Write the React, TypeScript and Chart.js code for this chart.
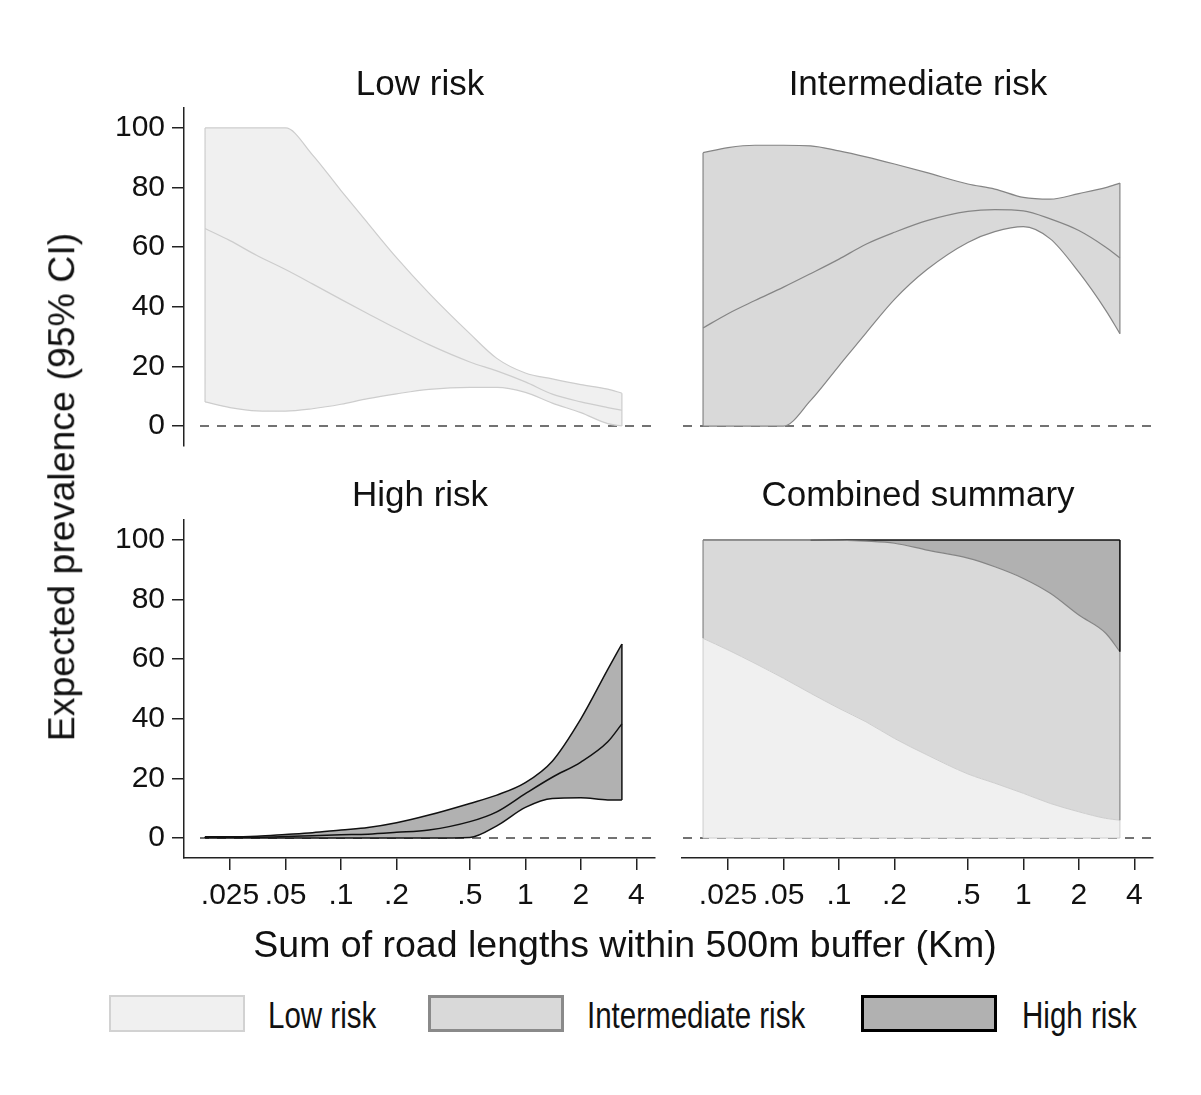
import React, { useEffect, useRef } from "react";
import { Chart, registerables } from "chart.js";

Chart.register(...registerables);

const FONT = '"Liberation Sans", Arial, Helvetica, sans-serif';

// ---------- data ----------
const xValues = [0.0183, 0.025, 0.035, 0.05, 0.07, 0.1, 0.14, 0.2, 0.3, 0.5, 0.7, 1, 1.4, 2, 2.8, 3.34];
const xTickValues = [0.025, 0.05, 0.1, 0.2, 0.5, 1, 2, 4];
const xTickLabels = [".025", ".05", ".1", ".2", ".5", "1", "2", "4"];
const yTickValues = [0, 20, 40, 60, 80, 100];
const yTickLabels = ["0", "20", "40", "60", "80", "100"];

const lowUpper = [100, 100, 100, 100, 91, 79, 68, 56.5, 44.6, 31, 22.7, 17.8, 15.8, 13.9, 12.4, 11];
const lowMid = [66.3, 62.2, 57.2, 52.5, 47.7, 42.5, 37.7, 32.7, 27.3, 21.5, 18.5, 14.8, 10.7, 8.1, 6.2, 5.3];
const lowLower = [8.1, 6.2, 5.1, 5.0, 5.8, 7.3, 9.2, 10.8, 12.3, 13.0, 13.0, 11.3, 7.7, 4.5, 0.8, 0];

const interUpper = [91.7, 93.4, 94.2, 94.2, 94, 92.3, 90.3, 87.9, 85, 81.2, 79.5, 76.7, 76.1, 78, 80, 81.5];
const interMid = [32.9, 37.7, 42.1, 46.6, 51.1, 56, 61, 65, 68.9, 72, 72.6, 72.2, 69.5, 65.6, 60, 56.4];
const interLower = [0, 0, 0, 0, 8.5, 20.2, 31.2, 42.5, 52.5, 61.6, 65.2, 66.9, 62.8, 51.6, 38.8, 31];

const highUpper = [0.4, 0.4, 0.6, 1.2, 1.8, 2.7, 3.5, 5.1, 7.7, 11.6, 14.4, 18.6, 25.8, 40, 56.6, 65.1];
const highMid = [0.3, 0.3, 0.3, 0.5, 0.8, 1.1, 1.3, 1.9, 2.7, 5.5, 8.8, 14.9, 20.4, 25.5, 32.3, 38.3];
const highLower = [0, 0, 0, 0, 0, 0, 0, 0, 0, 0.2, 4.1, 10.3, 13.3, 13.5, 12.8, 12.8];

const combinedLow = [67.0, 63.1, 58.6, 53.6, 48.6, 43.5, 39.0, 33.4, 27.9, 21.5, 18.4, 15.0, 11.6, 8.8, 6.6, 6.0];
const combinedIntermediate = [33.0, 36.9, 41.4, 46.4, 51.4, 56.4, 60.6, 65.5, 68.7, 72.4, 72.6, 72.1, 70.5, 66.0, 62.1, 56.5];
const combinedHigh = [0, 0, 0, 0, 0, 0.1, 0.4, 1.1, 3.4, 6.1, 9.0, 12.9, 17.9, 25.2, 31.3, 37.5];

const panelTitles = ["Low risk", "Intermediate risk", "High risk", "Combined summary"];
const legendLabels = ["Low risk", "Intermediate risk", "High risk"];
const yTitle = "Expected prevalence (95% CI)";
const xTitle = "Sum of road lengths within 500m buffer (Km)";

// ---------- styles ----------
const X_MIN = 0.01407;
const X_MAX = 5.05;
const Y_MIN = -6.7;
const Y_MAX = 106.7;

const STYLE = {
  low: { fill: "#f0f0f0", line: "#cdcdcd", width: 1.2, legendBorder: "#d2d2d2", legendWidth: 2 },
  inter: { fill: "#d9d9d9", line: "#858585", width: 1.2, legendBorder: "#8a8a8a", legendWidth: 3 },
  high: { fill: "#b1b1b1", line: "#111111", width: 1.5, legendBorder: "#000000", legendWidth: 3 },
};

const pts = (ys: number[]) => xValues.map((x, i) => ({ x, y: ys[i] }));

function bandDatasets(upper: number[], mid: number[], lower: number[], st: any) {
  const common = {
    pointRadius: 0,
    borderColor: st.line,
    borderWidth: st.width,
    cubicInterpolationMode: "monotone",
  };
  return [
    { ...common, label: "mid", data: pts(mid), fill: false },
    { ...common, label: "upper", data: pts(upper), fill: 2, backgroundColor: st.fill, edgeTo: 2, edgeColor: st.line },
    { ...common, label: "lower", data: pts(lower), fill: false },
  ];
}

function combinedDatasets() {
  const common = { pointRadius: 0, cubicInterpolationMode: "monotone" };
  return [
    {
      ...common,
      label: "low",
      data: pts(combinedLow),
      fill: "origin",
      backgroundColor: STYLE.low.fill,
      borderColor: STYLE.low.line,
      borderWidth: 1,
      edgeTo: "zero",
      edgeColor: STYLE.low.line,
      edgeBottom: true,
    },
    {
      ...common,
      label: "inter",
      data: pts(combinedIntermediate),
      fill: "-1",
      backgroundColor: STYLE.inter.fill,
      borderColor: STYLE.inter.line,
      borderWidth: 1.2,
      edgeTo: 0,
      edgeColor: STYLE.inter.line,
    },
    {
      ...common,
      label: "high",
      data: pts(combinedHigh),
      fill: "-1",
      backgroundColor: STYLE.high.fill,
      borderColor: STYLE.high.line,
      borderWidth: 1.6,
      segment: {
        borderColor: (c: any) => (combinedHigh[c.p1DataIndex] > 0 ? STYLE.high.line : STYLE.inter.line),
      },
      edgeTo: 1,
      edgeColor: STYLE.high.line,
      edgeWidth: 1.6,
    },
  ];
}

// ---------- plugins ----------
const zeroLinePlugin = {
  id: "zeroLine",
  beforeDraw(chart: any, _args: any, opts: any) {
    const { ctx, chartArea } = chart;
    const y = chart.scales.y.getPixelForValue(0);
    ctx.save();
    ctx.strokeStyle = "#444";
    ctx.lineWidth = 1.5;
    ctx.setLineDash([9, 8]);
    ctx.beginPath();
    ctx.moveTo(chartArea.left + (opts.offset || 0), y);
    ctx.lineTo(chartArea.right, y);
    ctx.stroke();
    ctx.restore();
  },
};

const edgePlugin = {
  id: "edges",
  afterDatasetsDraw(chart: any) {
    const ctx = chart.ctx;
    const yScale = chart.scales.y;
    const zeroPx = yScale.getPixelForValue(0);
    chart.data.datasets.forEach((ds: any, i: number) => {
      if (ds.edgeTo === undefined) return;
      const p = chart.getDatasetMeta(i).data;
      const n = p.length;
      if (!n) return;
      const base = (k: number) => (ds.edgeTo === "zero" ? zeroPx : chart.getDatasetMeta(ds.edgeTo).data[k].y);
      ctx.save();
      ctx.strokeStyle = ds.edgeColor;
      ctx.lineWidth = ds.edgeWidth || ds.borderWidth || 1;
      [0, n - 1].forEach((k) => {
        ctx.beginPath();
        ctx.moveTo(p[k].x, p[k].y);
        ctx.lineTo(p[k].x, base(k));
        ctx.stroke();
      });
      if (ds.edgeBottom) {
        ctx.beginPath();
        ctx.moveTo(p[0].x, zeroPx);
        ctx.lineTo(p[n - 1].x, zeroPx);
        ctx.stroke();
      }
      ctx.restore();
    });
  },
};

// ---------- panel ----------
type PanelProps = {
  left: number;
  top: number;
  width: number;
  height: number;
  padding: any;
  showX: boolean;
  showY: boolean;
  stacked?: boolean;
  zeroOffset: number;
  makeDatasets: () => any[];
};

function Panel(props: PanelProps) {
  const ref = useRef<HTMLCanvasElement | null>(null);
  useEffect(() => {
    const axisColor = "#222";
    const chart = new Chart(ref.current as HTMLCanvasElement, {
      type: "line",
      data: { datasets: props.makeDatasets() as any },
      options: {
        animation: false,
        responsive: false,
        devicePixelRatio: 1,
        layout: { padding: props.padding },
        events: [],
        plugins: {
          legend: { display: false },
          tooltip: { enabled: false },
          filler: { drawTime: "beforeDatasetsDraw" },
          zeroLine: { offset: props.zeroOffset },
        } as any,
        scales: {
          x: {
            type: "logarithmic",
            min: X_MIN,
            max: X_MAX,
            display: props.showX,
            afterBuildTicks: (s: any) => {
              s.ticks = xTickValues.map((v) => ({ value: v }));
            },
            afterFit: (s: any) => {
              if (props.showX) s.height = 72;
              else s.height = 0;
              s.paddingLeft = 0;
              s.paddingRight = 0;
            },
            ticks: {
              autoSkip: false,
              maxRotation: 0,
              minRotation: 0,
              padding: 8,
              color: "#111",
              font: { size: 30, family: FONT },
              callback: (v: any) => xTickLabels[xTickValues.indexOf(Number(v))],
            },
            grid: {
              display: true,
              drawOnChartArea: false,
              drawTicks: true,
              tickLength: 12,
              color: axisColor,
              lineWidth: 1.5,
            },
            border: { display: true, color: axisColor, width: 1.5 },
          } as any,
          y: {
            type: "linear",
            min: Y_MIN,
            max: Y_MAX,
            stacked: !!props.stacked,
            display: props.showY,
            afterBuildTicks: (s: any) => {
              s.ticks = yTickValues.map((v) => ({ value: v }));
            },
            afterFit: (s: any) => {
              if (props.showY) s.width = 184;
              else s.width = 0;
              s.paddingTop = 0;
              s.paddingBottom = 0;
            },
            ticks: {
              padding: 7,
              color: "#111",
              font: { size: 30, family: FONT },
              callback: (v: any) => yTickLabels[yTickValues.indexOf(Number(v))],
            },
            grid: {
              display: true,
              drawOnChartArea: false,
              drawTicks: true,
              tickLength: 12,
              color: axisColor,
              lineWidth: 1.5,
            },
            border: { display: true, color: axisColor, width: 1.5 },
          } as any,
        },
      },
      plugins: [zeroLinePlugin, edgePlugin],
    });
    return () => chart.destroy();
  }, []);
  return (
    <canvas
      ref={ref}
      width={props.width}
      height={props.height}
      style={{ position: "absolute", left: props.left, top: props.top, width: props.width, height: props.height }}
    />
  );
}

function CenterText({ x, y, size, text, rotate }: { x: number; y: number; size: number; text: string; rotate?: boolean }) {
  return (
    <div
      style={{
        position: "absolute",
        left: x,
        top: y,
        transform: `translate(-50%, -50%)${rotate ? " rotate(-90deg)" : ""}`,
        fontSize: size,
        lineHeight: 1,
        whiteSpace: "nowrap",
        color: "#111",
      }}
    >
      {text}
    </div>
  );
}

export default function App() {
  const legendStyles = [STYLE.low, STYLE.inter, STYLE.high];
  const legendBoxX = [109, 428, 861];
  const legendTextX = [268, 587, 1022];
  return (
    <div
      style={{
        position: "absolute",
        left: 0,
        top: 0,
        width: 1201,
        height: 1095,
        background: "#fff",
        fontFamily: FONT,
        overflow: "hidden",
      }}
    >
      <Panel
        left={0}
        top={100}
        width={670}
        height={360}
        padding={{ top: 8, right: 15, bottom: 14, left: 0 }}
        showX={false}
        showY={true}
        zeroOffset={16}
        makeDatasets={() => bandDatasets(lowUpper, lowMid, lowLower, STYLE.low)}
      />
      <Panel
        left={670}
        top={100}
        width={520}
        height={360}
        padding={{ top: 8, right: 37, bottom: 14, left: 12 }}
        showX={false}
        showY={false}
        zeroOffset={1}
        makeDatasets={() => bandDatasets(interUpper, interMid, interLower, STYLE.inter)}
      />
      <Panel
        left={0}
        top={510}
        width={670}
        height={420}
        padding={{ top: 10, right: 15, bottom: 0, left: 0 }}
        showX={true}
        showY={true}
        zeroOffset={16}
        makeDatasets={() => bandDatasets(highUpper, highMid, highLower, STYLE.high)}
      />
      <Panel
        left={670}
        top={510}
        width={520}
        height={420}
        padding={{ top: 10, right: 37, bottom: 0, left: 12 }}
        showX={true}
        showY={false}
        stacked={true}
        zeroOffset={1}
        makeDatasets={combinedDatasets}
      />

      <CenterText x={420} y={82} size={35} text={panelTitles[0]} />
      <CenterText x={918} y={82} size={35} text={panelTitles[1]} />
      <CenterText x={420} y={493} size={35} text={panelTitles[2]} />
      <CenterText x={918} y={493} size={35} text={panelTitles[3]} />

      <CenterText x={62} y={487} size={37.5} text={yTitle} rotate />
      <CenterText x={625} y={945} size={37.5} text={xTitle} />

      {legendLabels.map((lab, i) => (
        <React.Fragment key={lab}>
          <div
            style={{
              position: "absolute",
              left: legendBoxX[i],
              top: 995,
              width: 136,
              height: 37,
              boxSizing: "border-box",
              background: legendStyles[i].fill,
              border: `${legendStyles[i].legendWidth}px solid ${legendStyles[i].legendBorder}`,
            }}
          />
          <div
            style={{
              position: "absolute",
              left: legendTextX[i],
              top: 1016,
              transform: "translateY(-50%) scaleX(0.82)",
              transformOrigin: "left center",
              fontSize: 36,
              lineHeight: 1,
              whiteSpace: "nowrap",
              color: "#111",
            }}
          >
            {lab}
          </div>
        </React.Fragment>
      ))}
    </div>
  );
}
